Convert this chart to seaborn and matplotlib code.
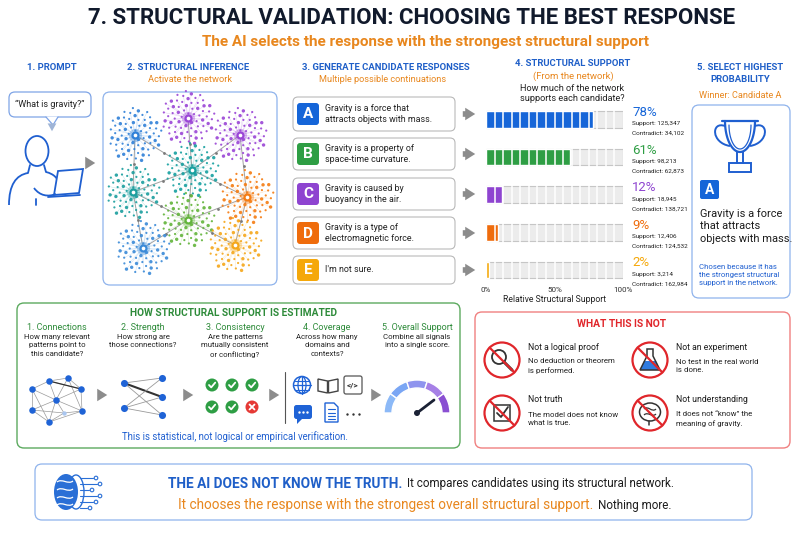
import numpy as np
import matplotlib.pyplot as plt
import seaborn as sns
from matplotlib.patches import (FancyBboxPatch, Circle, Ellipse, Polygon,
                                Rectangle, Wedge, FancyArrowPatch)
from matplotlib.path import Path
from matplotlib.patches import PathPatch

sns.set_theme(style='white')
FONT = ['Roboto', 'DejaVu Sans']
plt.rcParams['font.family'] = FONT

# ---- data ----
letters = ['A', 'B', 'C', 'D', 'E']
answers = ['Gravity is a force that\nattracts objects with mass.',
           'Gravity is a property of\nspace-time curvature.',
           'Gravity is caused by\nbuoyancy in the air.',
           'Gravity is a type of\nelectromagnetic force.',
           "I'm not sure."]
support_pct = [78, 61, 12, 9, 2]
support_n = [125347, 98213, 18945, 12406, 3214]
contradict_n = [34102, 62873, 138721, 124532, 162984]
cand_colors = ['#1565d8', '#2e9e44', '#8e44d0', '#ef6c0c', '#f5a80a']

step_titles = ['1. Connections', '2. Strength', '3. Consistency',
               '4. Coverage', '5. Overall Support']
step_texts = ['How many relevant\npatterns point to\nthis candidate?',
              'How strong are\nthose connections?',
              'Are the patterns\nmutually consistent\nor conflicting?',
              'Across how many\ndomains and\ncontexts?',
              'Combine all signals\ninto a single score.']

not_titles = ['Not a logical proof', 'Not an experiment',
              'Not truth', 'Not understanding']
not_texts = ['No deduction or theorem\nis performed.',
             'No test in the real world\nis done.',
             'The model does not know\nwhat is true.',
             'It does not \u201cknow\u201d the\nmeaning of gravity.']

BLUE = '#1f5fc8'
ORANGE = '#e8871e'
NAVY = '#111a2c'
GREEN = '#2e8b3a'
RED = '#e0262b'

fig = plt.figure(figsize=(8, 5.33), dpi=100)
ax = fig.add_axes([0, 0, 1, 1])
ax.set_xlim(0, 800)
ax.set_ylim(533, 0)
ax.axis('off')


def txt(x, y, s, size=7, color='#222222', weight='normal', ha='center',
        va='center', **kw):
    return ax.text(x, y, s, fontsize=size, color=color, fontweight=weight,
                   ha=ha, va=va, **kw)


def rbox(x0, y0, x1, y1, ec, fc='white', lw=1.0, r=5, z=1):
    ax.add_patch(FancyBboxPatch((x0, y0), x1 - x0, y1 - y0,
                                boxstyle=f'round,pad=0,rounding_size={r}',
                                ec=ec, fc=fc, lw=lw, zorder=z))


def garrow(x0, x1, y, color='#8c8c8c', scale=9):
    ax.add_patch(FancyArrowPatch((x0, y), (x1, y),
                                 arrowstyle='simple,head_length=0.8,head_width=1.0,tail_width=0.45',
                                 mutation_scale=scale, color=color, lw=0, zorder=3))


def bez(pts, color, lw=1.3, z=3, fc='none'):
    codes = [Path.MOVETO] + [Path.CURVE4] * (len(pts) - 1)
    ax.add_patch(PathPatch(Path(pts, codes), ec=color, fc=fc, lw=lw, zorder=z))


def line(xs, ys, color, lw=1.0, z=3, **kw):
    ax.plot(xs, ys, color=color, lw=lw, zorder=z, solid_capstyle='round', **kw)


# ---- title ----
txt(412, 18, '7. STRUCTURAL VALIDATION: CHOOSING THE BEST RESPONSE', 16,
    NAVY, 'bold')
txt(425, 42, 'The AI selects the response with the strongest structural support',
    11, ORANGE, 'bold')

# ---- section headers ----
HS = 6.8
txt(52, 67, '1. PROMPT', HS, BLUE, 'bold')
txt(188, 67, '2. STRUCTURAL INFERENCE', HS, BLUE, 'bold')
txt(190, 80, 'Activate the network', 6.7, ORANGE)
txt(386, 67, '3. GENERATE CANDIDATE RESPONSES', HS, BLUE, 'bold')
txt(383, 80, 'Multiple possible continuations', 6.6, ORANGE)
txt(573, 64, '4. STRUCTURAL SUPPORT', HS, BLUE, 'bold')
txt(573, 76, '(From the network)', 6.8, ORANGE)
txt(572, 93.5, 'How much of the network\nsupports each candidate?', 6.6, '#222222',
    linespacing=1.25)
txt(740, 67, '5. SELECT HIGHEST', HS, BLUE, 'bold')
txt(740, 79, 'PROBABILITY', HS, BLUE, 'bold')
txt(740, 95, 'Winner: Candidate A', 6.6, ORANGE)

# ---- 1. prompt ----
rbox(9, 92, 91, 117, '#7ea4e6', r=6, lw=0.9)
ax.add_patch(Polygon([(46, 116.5), (53, 125), (58, 116.5)], closed=True,
                     fc='white', ec='none', zorder=2))
line([46, 53, 58], [117, 125, 117], '#7ea4e6', 0.9)
txt(50, 104.5, '\u201cWhat is gravity?\u201d', 6.5, '#222222')
ax.add_patch(FancyArrowPatch((52, 122), (52, 134),
                             arrowstyle='simple,head_length=0.8,head_width=0.9,tail_width=0.3',
                             mutation_scale=7, color='#9fb4d6', lw=0, zorder=3))
PB = '#1f5fd0'
ax.add_patch(Ellipse((37, 151), 23, 30, ec=PB, fc='none', lw=1.3, zorder=3))
line([30, 28], [165, 173], PB, 1.3)
line([44, 46], [165, 172], PB, 1.3)
bez([(9, 205), (9, 185), (16, 175), (28, 173)], PB)
bez([(46, 172), (54, 174), (58, 178), (60, 186)], PB)
ax.add_patch(Polygon([(58, 171), (83, 169), (79, 193), (54, 195)], closed=True,
                     ec=PB, fc='white', lw=1.3, zorder=4))
line([48, 80], [197, 195], PB, 1.3, z=4)
bez([(34, 188), (40, 196), (48, 197), (56, 194)], PB, z=4)
line([36, 36], [199, 205], PB, 1.3)
garrow(85, 98, 163)

# ---- 2. network ----
rbox(103, 92, 277, 285, '#8fb3ec', r=7, lw=0.9)
hubs_x = [135, 188, 240, 192, 133, 247, 188, 143, 235]
hubs_y = [135, 118, 135, 170, 192, 197, 220, 248, 245]
hub_cols = ['#2f80d8', '#9a45d6', '#9a45d6', '#16a0a0', '#1a9e9e',
            '#f57c12', '#62b43a', '#3a8ad8', '#f5a71a']
links = [(0, 3), (1, 3), (2, 3), (3, 4), (3, 5), (3, 6), (4, 6), (5, 6),
         (6, 7), (6, 8), (0, 4), (4, 7), (2, 5), (5, 8)]
for a, b in links:
    line([hubs_x[a], hubs_x[b]], [hubs_y[a], hubs_y[b]], '#8a8a8a', 0.7, z=2,
         alpha=0.8)
    ax.scatter([(hubs_x[a] + hubs_x[b]) / 2], [(hubs_y[a] + hubs_y[b]) / 2],
               s=4, color='#7a7a7a', zorder=2, lw=0)
# sunflower layout of the small nodes around each hub
n_leaf = 70
k = np.arange(1, n_leaf + 1)
leaf_r = 27 * np.sqrt(k / n_leaf)
leaf_a = k * 2.39996
leaf_s = 2.5 + 3.5 * (k % 3 == 0)
for hx, hy, hc in zip(hubs_x, hubs_y, hub_cols):
    px = hx + leaf_r * np.cos(leaf_a)
    py = hy + leaf_r * np.sin(leaf_a)
    for qx, qy in zip(px[::2], py[::2]):
        line([hx, qx], [hy, qy], hc, 0.3, z=2, alpha=0.3)
    ax.scatter(px, py, s=leaf_s, color=hc, zorder=3, lw=0, alpha=0.9)
    ax.scatter([hx], [hy], s=90, color=hc, zorder=4, lw=0, alpha=0.35)
    ax.scatter([hx], [hy], s=34, color=hc, zorder=4, lw=0)
    ax.scatter([hx], [hy], s=7, color='white', zorder=5, lw=0)

# ---- 3. candidates ----
box_y = [114, 154, 194, 233, 270]
box_h = [34, 32, 32, 32, 28]
for i in range(5):
    yc, h = box_y[i], box_h[i]
    rbox(293, yc - h / 2, 455, yc + h / 2, '#b9b9b9', r=5, lw=0.8)
    rbox(297, yc - 11, 319, yc + 11, cand_colors[i], fc=cand_colors[i], r=3,
         lw=0, z=3)
    ax.text(308, yc + 0.5, letters[i], fontsize=11, color='white',
            fontweight='bold', ha='center', va='center', zorder=4)
    txt(325, yc, answers[i], 6.4, '#222222', ha='left', linespacing=1.35)
    garrow(460, 478, yc)

# ---- 4. structural support bars (seaborn) ----
bar_top, bar_step = 119.5, 37.6
ax_top = bar_top - bar_step / 2
ax_bot = bar_top + bar_step * 4.5 - 4
axb = fig.add_axes([486 / 800, 1 - ax_bot / 533, 137 / 800,
                    (ax_bot - ax_top) / 533])
axb.patch.set_alpha(0)
sns.barplot(x=[100] * 5, y=letters, color='#ececec', edgecolor='#c6c6c6',
            linewidth=0.8, width=0.44, errorbar=None, saturation=1, ax=axb)
sns.barplot(x=support_pct, y=letters, hue=letters, palette=cand_colors,
            width=0.44, errorbar=None, saturation=1, legend=False, ax=axb)
axb.set_ylim(4.5 - 4 / bar_step, -0.5)
axb.vlines(np.linspace(0, 100, 17)[1:-1], -0.5, 4.4, color='white', lw=1.1,
           zorder=5)
axb.set_xlim(0, 100)
axb.set_yticks([])
axb.set_ylabel('')
axb.set_xticks([0, 50, 100])
axb.set_xticklabels(['0%', '50%', '100%'])
axb.tick_params(axis='x', length=0, pad=1.5, labelsize=5.8, labelcolor='#333333')
axb.set_xlabel('Relative Structural Support', fontsize=6.2, color='#222222',
               labelpad=1.5)
for s in axb.spines.values():
    s.set_visible(False)

for i in range(5):
    yc = bar_top + bar_step * i
    txt(632, yc - 7, f'{support_pct[i]}%', 9.5, cand_colors[i], ha='left')
    txt(632, yc + 4.5, f'Support: {support_n[i]:,}', 4.6, '#222222', ha='left')
    txt(632, yc + 14, f'Contradict: {contradict_n[i]:,}', 4.6, '#222222',
        ha='left')

# ---- 5. winner ----
rbox(692, 105, 790, 298, '#8fb3ec', r=7, lw=0.9)
TB = '#1f5fd0'
t = np.linspace(0, np.pi, 40)
line(740 + 15 * np.cos(t), 121 + 31 * np.sin(t), TB, 1.6)
line([722, 758], [121, 121], TB, 1.6)
line(740 + 11 * np.cos(t), 125 + 24 * np.sin(t), TB, 0.9)
bez([(725, 126), (711, 121), (711, 143), (730, 146)], TB, 1.4)
bez([(755, 126), (769, 121), (769, 143), (750, 146)], TB, 1.4)
line([737, 737], [152, 163], TB, 1.4)
line([743, 743], [152, 163], TB, 1.4)
ax.add_patch(Rectangle((729, 163), 22, 9, ec=TB, fc='none', lw=1.4, zorder=3))
rbox(700, 180, 719, 199, '#1565d8', fc='#1565d8', r=2, lw=0, z=3)
ax.text(709.5, 190, 'A', fontsize=10, color='white', fontweight='bold',
        ha='center', va='center', zorder=4)
txt(700, 226, 'Gravity is a force\nthat attracts\nobjects with mass.', 7.9,
    '#1c1c1c', ha='left', linespacing=1.35)
txt(699, 275, 'Chosen because it has\nthe strongest structural\nsupport in the network.',
    5.6, '#1f5fd0', ha='left', linespacing=1.45)

# ---- how support is estimated ----
rbox(17, 303, 460, 448, '#5caa5f', r=7, lw=1.0)
txt(233, 313, 'HOW STRUCTURAL SUPPORT IS ESTIMATED', 7.3, GREEN, 'bold')
step_x = [57, 143, 235, 327, 417]
for sx, st, sd in zip(step_x, step_titles, step_texts):
    txt(sx, 327, st, 6.5, GREEN)
    txt(sx, 334, sd, 5.6, '#222222', va='top', linespacing=1.45)
for x0 in [96, 182, 268, 370]:
    garrow(x0, x0 + 14, 395)
line([285, 285], [372, 423], '#555555', 0.8)

# icon 1: network
nx = [32, 49, 68, 81, 56, 32, 82, 49, 64]
ny = [389, 381, 378, 389, 400, 410, 411, 422, 413]
edges = [(0, 1), (1, 2), (2, 3), (0, 4), (1, 4), (2, 4), (3, 4), (0, 5),
         (4, 5), (4, 6), (3, 6), (5, 7), (4, 7), (6, 7), (4, 8), (6, 8),
         (7, 8), (1, 3), (0, 7), (2, 6), (5, 8)]
for a, b in edges:
    line([nx[a], nx[b]], [ny[a], ny[b]], '#9a9a9a', 0.5, z=3)
line([nx[1], nx[3]], [ny[1], ny[3]], '#333333', 0.9, z=3)
ax.scatter(nx[:8], ny[:8], s=22, color='#1f63d6', zorder=4, lw=0)
ax.scatter(nx[8:], ny[8:], s=10, color='#a9c6f0', zorder=4, lw=0)

# icon 2: strength
lx, ly = [124, 124], [383, 408]
rx, ry = [162, 162, 162], [378, 397, 415]
for i in range(2):
    for j in range(3):
        bold = (i == 0 and j == 1)
        line([lx[i], rx[j]], [ly[i], ry[j]], '#333333' if bold else '#9a9a9a',
             1.5 if bold else 0.6, z=3)
ax.scatter(lx + rx, ly + ry, s=26, color='#1f63d6', zorder=4, lw=0)

# icon 3: consistency
for k, (cx, cy) in enumerate([(212, 385), (232, 385), (252, 385),
                              (212, 407), (232, 407), (252, 407)]):
    bad = k == 5
    ax.add_patch(Circle((cx, cy), 6.5, fc='#e53935' if bad else '#2e9e44',
                        ec='none', zorder=3))
    if bad:
        line([cx - 2.5, cx + 2.5], [cy - 2.5, cy + 2.5], 'white', 1.3, z=4)
        line([cx - 2.5, cx + 2.5], [cy + 2.5, cy - 2.5], 'white', 1.3, z=4)
    else:
        line([cx - 3, cx - 0.8, cx + 3.2], [cy, cy + 2.4, cy - 2.4], 'white',
             1.3, z=4)

# icon 4: coverage
CB = '#1f63d6'
ax.add_patch(Circle((302, 385), 8.5, ec=CB, fc='none', lw=1.1, zorder=3))
ax.add_patch(Ellipse((302, 385), 8, 17, ec=CB, fc='none', lw=0.9, zorder=3))
line([293.5, 310.5], [385, 385], CB, 0.9)
line([295, 309], [380.5, 380.5], CB, 0.8)
line([295, 309], [389.5, 389.5], CB, 0.8)
line([302, 302], [376.5, 393.5], CB, 0.9)
ax.add_patch(Polygon([(318, 379), (327.5, 381), (327.5, 393), (318, 391)],
                     closed=True, ec='#444444', fc='white', lw=1, zorder=3))
ax.add_patch(Polygon([(328.5, 381), (338, 379), (338, 391), (328.5, 393)],
                     closed=True, ec='#444444', fc='white', lw=1, zorder=3))
rbox(344, 376, 362, 394, '#555555', r=2, lw=0.9, z=3)
ax.text(353, 385, '</>', fontsize=6, color='#333333', ha='center',
        va='center', zorder=4, fontweight='bold')
rbox(294, 405, 312, 419, CB, fc=CB, r=2.5, lw=0, z=3)
ax.add_patch(Polygon([(297, 418), (297, 424), (303, 418)], closed=True,
                     fc=CB, ec='none', zorder=3))
ax.scatter([299, 303, 307], [412, 412, 412], s=3, color='white', zorder=4,
           lw=0)
ax.add_patch(Polygon([(325, 403), (334, 403), (338, 407), (338, 422),
                      (325, 422)], closed=True, ec=CB, fc='white', lw=1,
                     zorder=3))
for yy in [409, 412.5, 416, 419]:
    line([328, 335], [yy, yy], CB, 0.8, z=4)
ax.scatter([347, 353, 359], [414, 414, 414], s=3, color='#333333', zorder=4,
           lw=0)

# icon 5: gauge
g_cols = ['#8cb9f7', '#7aa6f4', '#8f94ee', '#a680e6', '#8a4fd2']
for i, gc in enumerate(g_cols):
    ax.add_patch(Wedge((417, 413), 33, 180 + 36 * i, 180 + 36 * (i + 1),
                       width=8, fc=gc, ec='white', lw=1, zorder=3))
line([417, 434], [413, 400], '#1b2235', 2.0, z=4)
ax.add_patch(Circle((417, 413), 3, fc='#1b2235', ec='none', zorder=5))
txt(235, 437, 'This is statistical, not logical or empirical verification.',
    6.9, '#1f5fd0')

# ---- what this is not ----
rbox(475, 312, 790, 448, '#f08080', r=7, lw=1.0)
txt(622, 324, 'WHAT THIS IS NOT', 7.4, RED, 'bold')
ic_x = [502, 650, 502, 650]
ic_y = [360, 360, 413, 413]
IC = '#333333'
for k in range(4):
    cx, cy = ic_x[k], ic_y[k]
    if k == 0:
        ax.add_patch(Circle((cx - 3, cy - 3), 7, ec=IC, fc='none', lw=1.3,
                            zorder=3))
        line([cx + 2, cx + 10], [cy + 2, cy + 10], IC, 2.2)
    elif k == 1:
        ax.add_patch(Polygon([(cx - 6, cy + 1), (cx + 6, cy + 1), (cx + 10, cy + 10),
                              (cx - 10, cy + 10)], closed=True, fc='#2f7be0',
                             ec='none', zorder=3))
        ax.add_patch(Polygon([(cx - 3, cy - 11), (cx + 3, cy - 11),
                              (cx + 3, cy - 4), (cx + 10, cy + 10),
                              (cx - 10, cy + 10), (cx - 3, cy - 4)],
                             closed=True, ec=IC, fc='none', lw=1.1, zorder=4))
    elif k == 2:
        ax.add_patch(Rectangle((cx - 8, cy - 8), 16, 16, ec=IC, fc='none',
                               lw=1.1, zorder=3))
        line([cx - 5, cx - 1, cx + 6], [cy, cy + 4, cy - 6], IC, 1.3)
    else:
        ax.add_patch(Ellipse((cx, cy - 1), 21, 18, ec=IC, fc='none', lw=1.1,
                             zorder=3))
        bez([(cx - 6, cy - 4), (cx - 2, cy - 8), (cx + 2, cy), (cx + 6, cy - 4)], IC, 0.9)
        bez([(cx - 6, cy + 2), (cx - 2, cy - 2), (cx + 2, cy + 5), (cx + 6, cy + 1)], IC, 0.9)
        line([cx - 1, cx - 1], [cy + 8, cy + 12], IC, 1.1)
    ax.add_patch(Circle((cx, cy), 17.5, ec=RED, fc='none', lw=1.6, zorder=5))
    line([cx - 12.4, cx + 12.4], [cy - 12.4, cy + 12.4], RED, 1.6, z=5)
    tx = cx + 26
    txt(tx, cy - 13, not_titles[k], 6.2, '#1c1c1c', ha='left')
    txt(tx, cy + 6, not_texts[k], 5.7, '#222222', ha='left',
        linespacing=1.55)

# ---- bottom banner ----
rbox(35, 464, 752, 520, '#8fb3ec', r=7, lw=0.9)
BB = '#2a6fd6'
ax.add_patch(Ellipse((66, 492), 24, 36, fc=BB, ec='none', zorder=3))
for yy in [482, 490, 498, 505]:
    bez([(57, yy), (62, yy - 4), (68, yy + 3), (73, yy - 1)], 'white', 0.9, z=4)
ax.add_patch(Ellipse((76, 492), 16, 34, ec=BB, fc='none', lw=1.0, zorder=3))
for yy, xe in zip([478, 484, 490, 496, 502, 508], [96, 100, 92, 100, 96, 90]):
    line([80, xe - 3], [yy, yy], BB, 0.8)
    ax.add_patch(Circle((xe, yy), 1.8, ec=BB, fc='white', lw=0.8, zorder=4))

fig.canvas.draw()
rend = fig.canvas.get_renderer()
inv = ax.transData.inverted()


def chain(x, y, parts):
    for s, size, color, weight in parts:
        t_ = txt(x, y, s, size, color, weight, ha='left')
        bb = t_.get_window_extent(renderer=rend)
        x = inv.transform((bb.x1, 0))[0] + 5


chain(168, 484, [('THE AI DOES NOT KNOW THE TRUTH.', 9.8, '#1f5fc8', 'bold'),
                 ('It compares candidates using its structural network.', 8.4,
                  '#1c1c1c', 'normal')])
chain(178, 505, [('It chooses the response with the strongest overall structural support.',
                  9.8, ORANGE, 'normal'),
                 ('Nothing more.', 8.4, '#1c1c1c', 'normal')])

fig.savefig('out.png', dpi=100, facecolor='white')
